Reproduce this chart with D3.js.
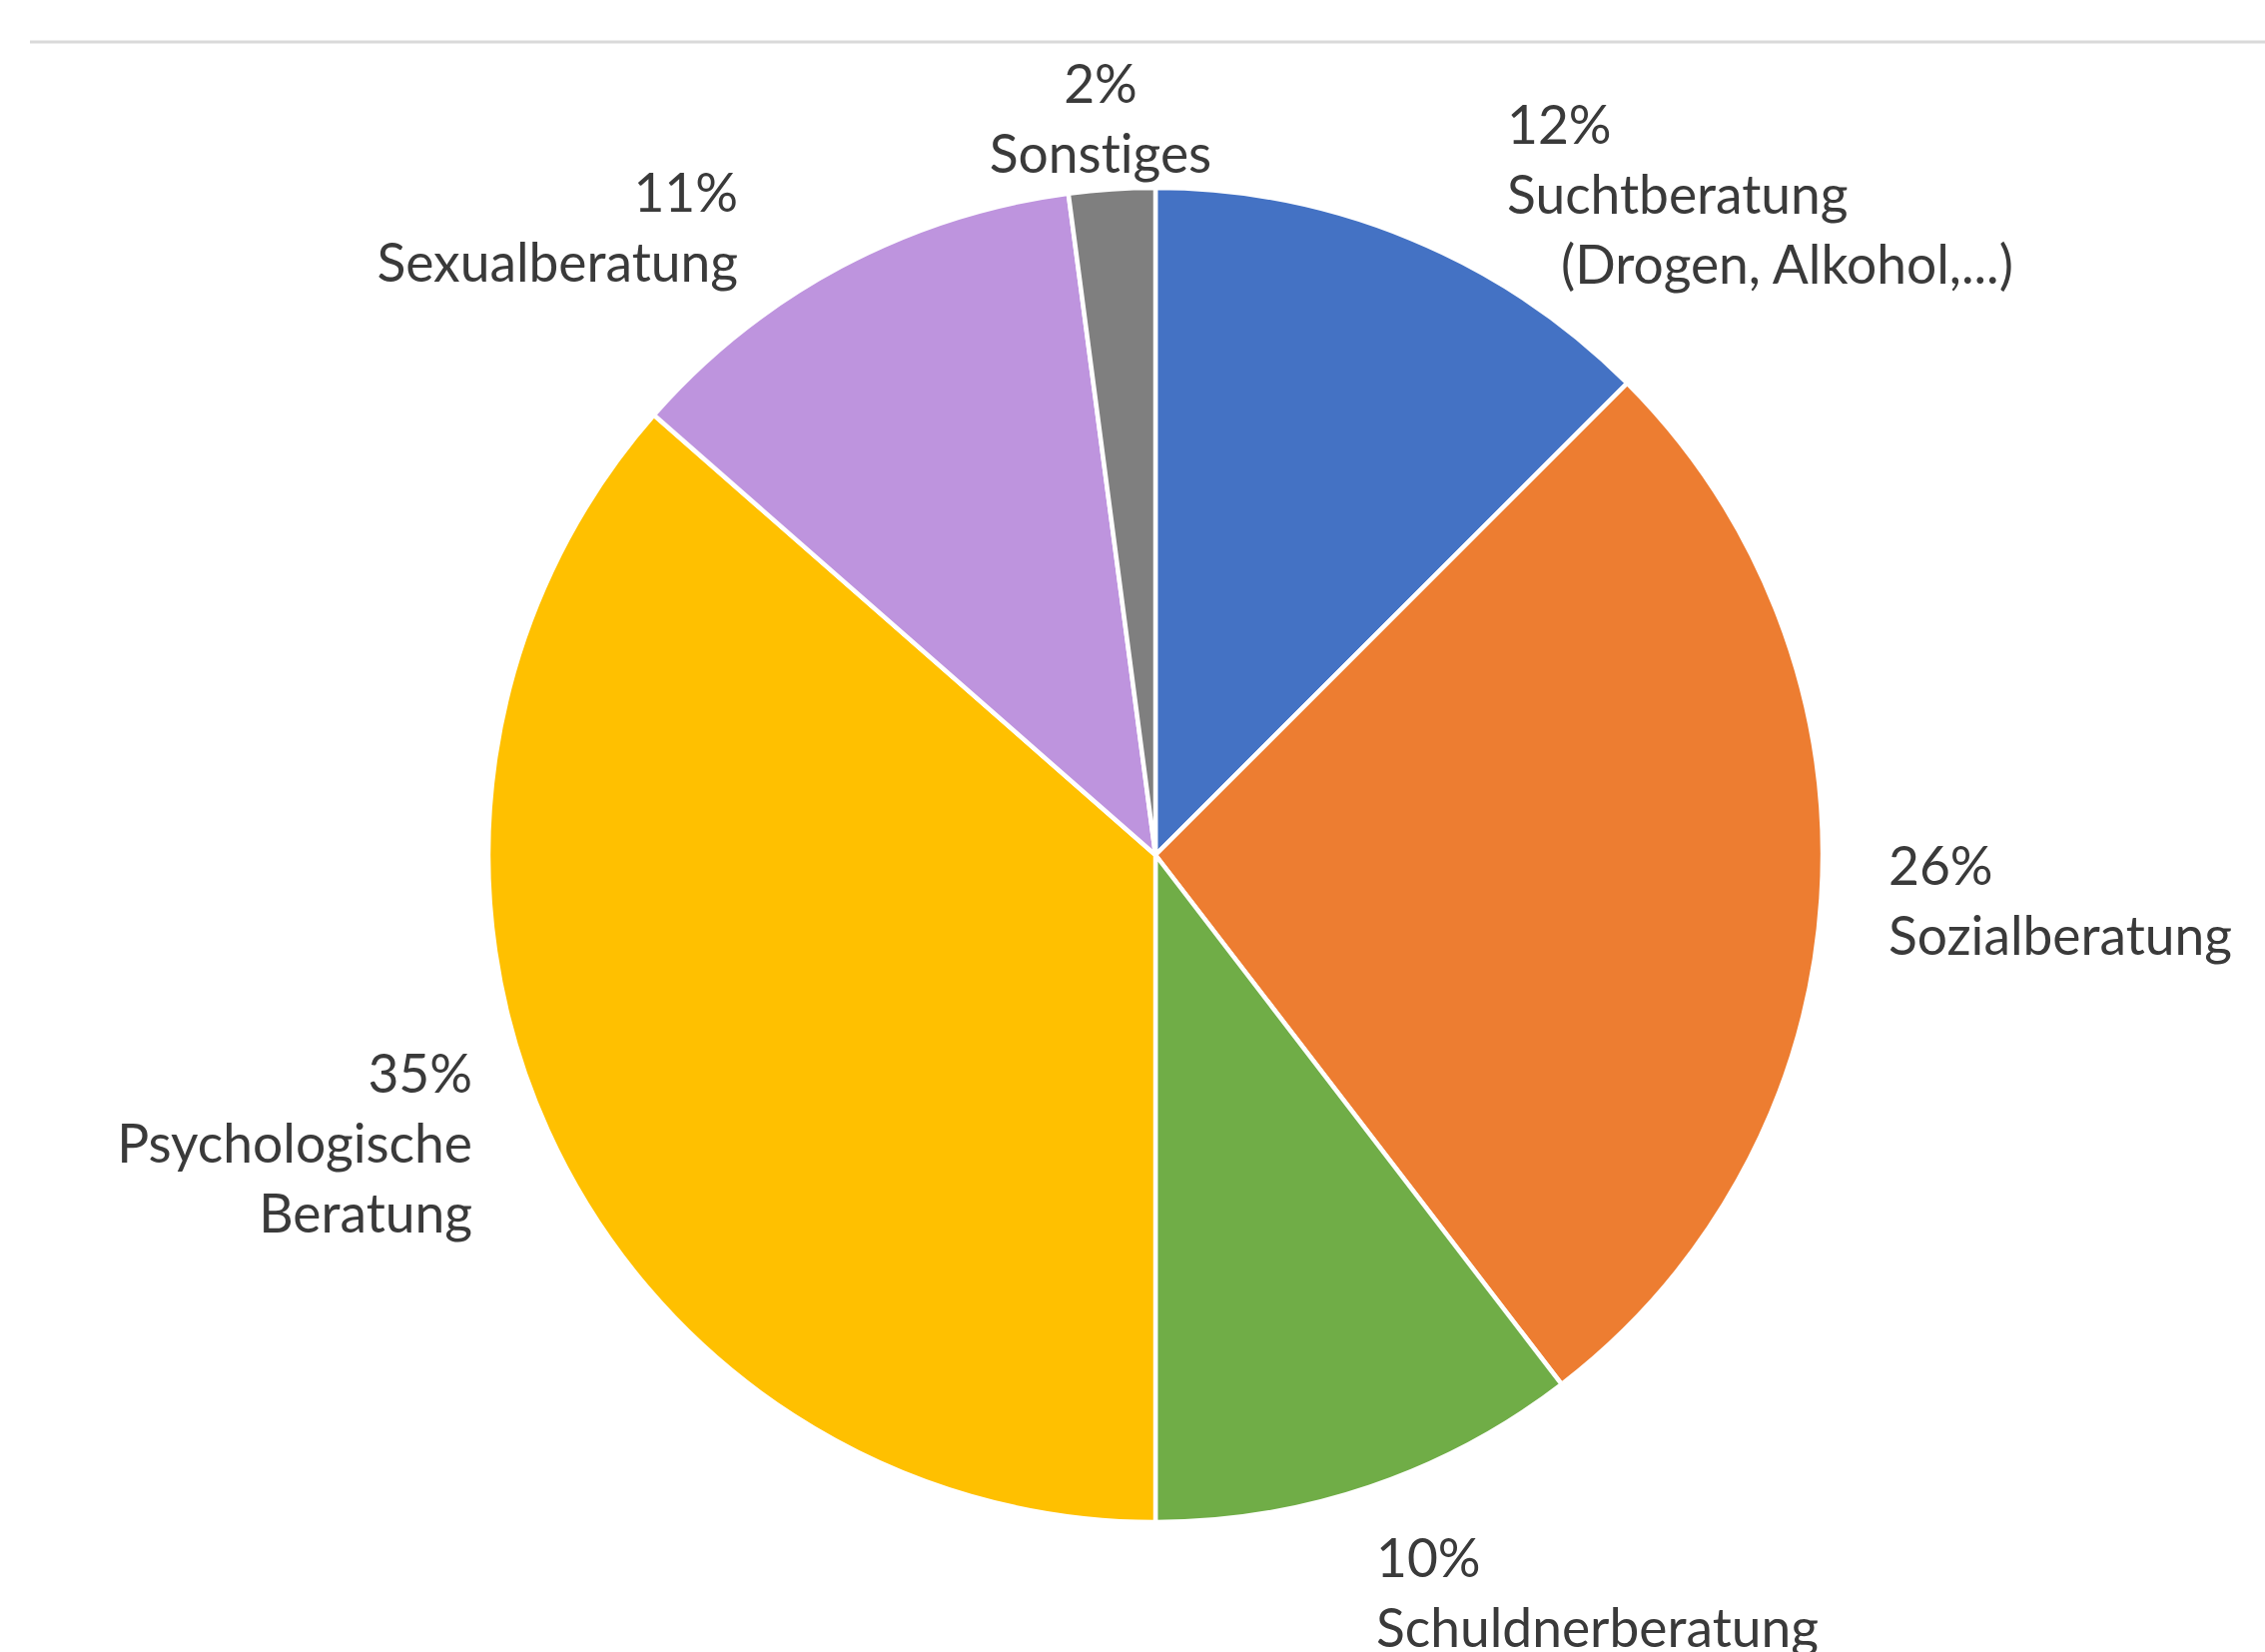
<!DOCTYPE html>
<html><head><meta charset="utf-8">
<script src="https://cdn.jsdelivr.net/npm/d3@7"></script>
<style>html,body{margin:0;padding:0;background:#fff;overflow:hidden} text{font-variant-ligatures:none;font-feature-settings:"liga" 0}</style>
</head><body>
<script>
// ---- data ----
const categories = ["Suchtberatung", "Sozialberatung", "Schuldnerberatung", "Psychologische Beratung", "Sexualberatung", "Sonstiges"];
const values = [12, 26, 10, 35, 11, 2];
const labelLines = [
  ["Suchtberatung", "(Drogen, Alkohol,...)"],
  ["Sozialberatung"],
  ["Schuldnerberatung"],
  ["Psychologische", "Beratung"],
  ["Sexualberatung"],
  ["Sonstiges"]
];
const colors = ["#4472C4", "#ED7D31", "#70AD47", "#FFC000", "#BE94DE", "#7F7F7F"];

// ---- layout ----
const W = 2268, H = 1654;
const cx = 1157, cy = 856, R = 668;
const lineH = 70;
// label anchors: x, first baseline y, anchor, extra indent per line
const labelLayout = [
  {x: 1509, y: 144, anchor: "start", indent: [0, 0, 54]},
  {x: 1891, y: 886, anchor: "start"},
  {x: 1378, y: 1579, anchor: "start"},
  {x: 473, y: 1094, anchor: "end"},
  {x: 739, y: 212, anchor: "end"},
  {x: 1102, y: 103, anchor: "middle"}
];

const svg = d3.select("body").append("svg").attr("width", W).attr("height", H);

svg.append("line").attr("x1", 30).attr("x2", W).attr("y1", 42).attr("y2", 42)
  .attr("stroke", "#d9d9d9").attr("stroke-width", 3);

const data = categories.map((c, i) => ({cat: c, value: values[i], lines: labelLines[i], color: colors[i], i}));
const pie = d3.pie().sort(null).value(d => d.value);
const arc = d3.arc().innerRadius(0).outerRadius(R);
const color = d3.scaleOrdinal().domain(categories).range(colors);

const g = svg.append("g").attr("transform", `translate(${cx},${cy})`);
g.selectAll("path").data(pie(data)).join("path")
  .attr("d", arc)
  .attr("fill", d => color(d.data.cat))
  .attr("stroke", "#fff").attr("stroke-width", 4.5).attr("stroke-linejoin", "round");

// font size fitted so that "Sozialberatung" is ~344px wide (Calibri-like metrics)
const fam = "Lato, 'Open Sans', sans-serif";
const probe = svg.append("text").attr("font-family", fam).attr("font-size", 100).text("Sozialberatung");
const w100 = probe.node().getComputedTextLength();
probe.remove();
const fs = Math.min(60, 100 * 344 / w100);

const lg = svg.append("g").attr("font-family", fam).attr("font-size", fs).attr("fill", "#3a3a3a");
data.forEach((d, i) => {
  const L = labelLayout[i];
  const t = lg.append("text").attr("text-anchor", L.anchor);
  const lines = [d.value + "%"].concat(d.lines);
  lines.forEach((s, k) => {
    t.append("tspan").attr("x", L.x + (L.indent ? L.indent[k] : 0)).attr("y", L.y + k * lineH).text(s);
  });
});
</script>
</body></html>
